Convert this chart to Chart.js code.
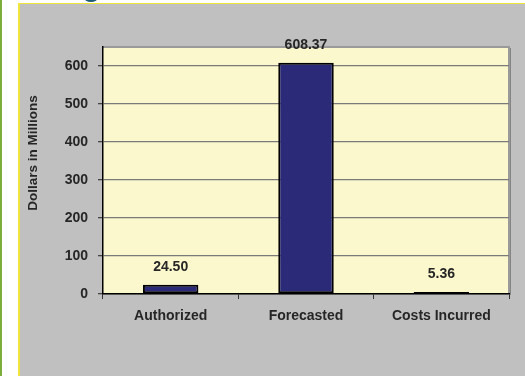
<!DOCTYPE html>
<html>
<head>
<meta charset="utf-8">
<script src="https://cdn.jsdelivr.net/npm/chart.js@4.4.1/dist/chart.umd.min.js"></script>
<style>
html,body{margin:0;padding:0;background:#fff;width:525px;height:376px;overflow:hidden;}
#green{position:absolute;left:0;top:0;width:2px;height:376px;background:#7DAE3C;}
#panel{position:absolute;left:18px;top:3px;width:507px;height:373px;background:#C0C0C0;border-left:2px solid #EFE43A;border-top:1px solid #EFE43A;box-sizing:border-box;}
#blob{position:absolute;left:84px;top:-7px;width:14px;height:9px;border-radius:50%;background:#1D5A73;}
#wrap{position:absolute;left:0;top:0;width:525px;height:376px;}
</style>
</head>
<body>
<div id="green"></div>
<div id="panel"></div>
<div id="blob"></div>
<div id="wrap"><canvas id="c" width="525" height="376"></canvas></div>
<script>
const categories = ["Authorized", "Forecasted", "Costs Incurred"];
const values = [24.50, 608.37, 5.36];
const valueLabels = ["24.50", "608.37", "5.36"];
const yTickValues = [0, 100, 200, 300, 400, 500, 600];
const yTitle = "Dollars in Millions";

const FONT = "'Liberation Sans', Arial, sans-serif";
const TXT = "#262626";

const bgPlugin = {
  id: "bg",
  beforeDraw(chart) {
    const {ctx, chartArea: a} = chart;
    ctx.save();
    ctx.fillStyle = "#FCF8CE";
    ctx.fillRect(a.left, a.top, a.right - a.left, a.bottom - a.top);
    ctx.strokeStyle = "#9A9A9A";
    ctx.lineWidth = 2;
    ctx.beginPath();
    ctx.moveTo(a.left, a.top);
    ctx.lineTo(a.right, a.top);
    ctx.lineTo(a.right, a.bottom);
    ctx.stroke();
    ctx.strokeStyle = "#858585";
    ctx.lineWidth = 1;
    ctx.beginPath();
    ctx.moveTo(a.right + 1.5, a.top + 1);
    ctx.lineTo(a.right + 1.5, a.bottom + 1);
    ctx.stroke();
    ctx.restore();
  },
  afterDraw(chart) {
    const {ctx} = chart;
    ctx.save();
    ctx.translate(33, 153);
    ctx.rotate(-Math.PI / 2);
    ctx.fillStyle = TXT;
    ctx.font = "bold 13.5px " + FONT;
    ctx.textAlign = "center";
    ctx.textBaseline = "middle";
    ctx.fillText(yTitle, 0, 0);
    ctx.restore();
    const meta = chart.getDatasetMeta(0);
    ctx.save();
    ctx.fillStyle = TXT;
    ctx.font = "bold 14px " + FONT;
    ctx.textAlign = "center";
    ctx.textBaseline = "middle";
    meta.data.forEach((bar, i) => {
      ctx.fillText(valueLabels[i], bar.x, bar.y - 18);
    });
    ctx.restore();
  }
};

new Chart(document.getElementById("c"), {
  type: "bar",
  data: {
    labels: categories,
    datasets: [{
      data: values,
      backgroundColor: "#2B2A78",
      borderColor: "#000000",
      borderWidth: 2,
      borderSkipped: false,
      barPercentage: 0.41,
      categoryPercentage: 1
    }]
  },
  options: {
    responsive: false,
    animation: false,
    devicePixelRatio: 1,
    layout: { padding: { left: 0, right: 16, top: 47, bottom: 0 } },
    plugins: { legend: { display: false }, tooltip: { enabled: false } },
    scales: {
      x: {
        grid: { drawOnChartArea: false, drawTicks: true, tickLength: 5, color: "#333", offset: true },
        border: { color: "#000", width: 1.5 },
        ticks: { color: TXT, font: { family: FONT, size: 14, weight: "bold" }, padding: 9, maxRotation: 0 },
        afterFit(s) { s.height = 82; }
      },
      y: {
        min: 0, max: 650,
        grid: { color: "#7A7A7A", lineWidth: 1.3, tickLength: 5, tickColor: "#444" },
        border: { color: "#000", width: 1.5 },
        ticks: { stepSize: 100, color: TXT, font: { family: FONT, size: 14, weight: "bold" }, padding: 10 },
        afterBuildTicks(s) { s.ticks = yTickValues.map(v => ({ value: v })); },
        afterFit(s) { s.width = 103; }
      }
    }
  },
  plugins: [bgPlugin]
});
</script>
</body>
</html>
